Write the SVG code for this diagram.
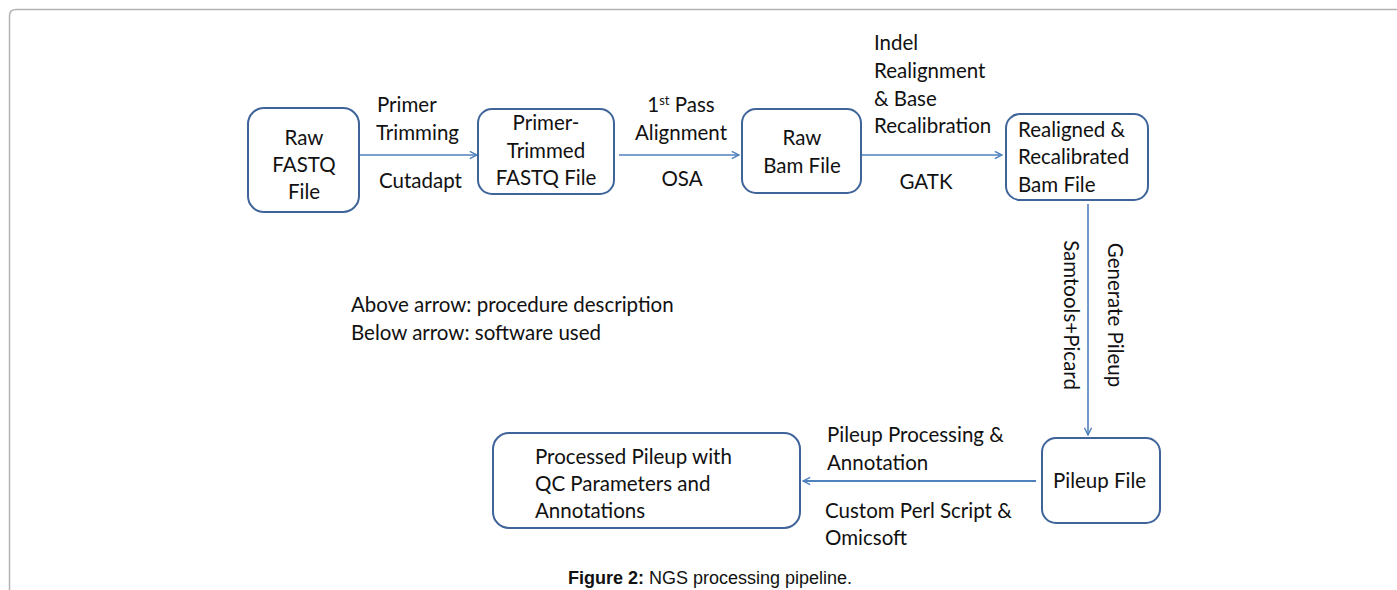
<svg xmlns="http://www.w3.org/2000/svg" width="1397" height="590" viewBox="0 0 1397 590">
  <defs>
    <marker id="arrowOpen" viewBox="0 0 10 10" refX="9" refY="5" markerWidth="9" markerHeight="9" markerUnits="userSpaceOnUse" orient="auto">
      <path d="M1,1 L9,5 L1,9" fill="none" stroke="#4f81bd" stroke-width="1.6"/>
    </marker>
    <style>
      .frame { fill: none; stroke: #b3b3b3; stroke-width: 1.5; }
      .node rect { fill: #ffffff; stroke: #3e6499; stroke-width: 2; }
      .t { font-family: Lato, "Liberation Sans", sans-serif; font-size: 20.5px; fill: #111111; }
      .mid { text-anchor: middle; }
      .edge { fill: none; stroke: #4f81bd; stroke-width: 1.6; marker-end: url(#arrowOpen); }
      .cap { font-family: "Liberation Sans", Arial, sans-serif; font-size: 18px; fill: #111111; }
    </style>
  </defs>

  <rect width="1397" height="590" fill="#ffffff"/>
  <!-- page frame, open to the right and bottom -->
  <path class="frame" d="M9.5,590 L9.5,16 Q9.5,9.5 16,9.5 L1397,9.5"/>

  <!-- connectors -->
  <g id="connectors">
    <line class="edge" x1="359" y1="155" x2="477" y2="155"/>
    <line class="edge" x1="619" y1="155" x2="739" y2="155"/>
    <line class="edge" x1="861" y1="155" x2="1002" y2="155"/>
    <line class="edge" x1="1088" y1="204" x2="1088" y2="435"/>
    <line class="edge" x1="1036" y1="481" x2="803" y2="481" style="stroke-width:2"/>
  </g>

  <!-- connector labels -->
  <g id="labels">
    <text class="t" x="377" y="112">Primer</text>
    <text class="t" x="376" y="140">Trimming</text>
    <text class="t" x="379" y="188">Cutadapt</text>

    <text class="t mid" x="681" y="112">1<tspan font-size="13" dy="-7">st</tspan><tspan dy="7"> Pass</tspan></text>
    <text class="t mid" x="681" y="140">Alignment</text>
    <text class="t mid" x="682" y="186">OSA</text>

    <text class="t" x="874" y="50">Indel</text>
    <text class="t" x="874" y="78">Realignment</text>
    <text class="t" x="874" y="106">&amp; Base</text>
    <text class="t" x="874" y="133">Recalibration</text>
    <text class="t mid" x="926" y="189">GATK</text>

    <text class="t mid" transform="translate(1064,315) rotate(90)">Samtools+Picard</text>
    <text class="t mid" transform="translate(1108,315) rotate(90)">Generate Pileup</text>

    <text class="t" x="827" y="442">Pileup Processing &amp;</text>
    <text class="t" x="827" y="470">Annotation</text>
    <text class="t" x="825" y="518">Custom Perl Script &amp;</text>
    <text class="t" x="825" y="545">Omicsoft</text>

    <text class="t" x="351" y="312">Above arrow: procedure description</text>
    <text class="t" x="351" y="340">Below arrow: software used</text>
  </g>

  <!-- nodes -->
  <g id="raw-fastq" class="node">
    <rect x="248" y="108" width="111" height="104" rx="16"/>
    <text class="t mid" x="304" y="145">Raw</text>
    <text class="t mid" x="304" y="172">FASTQ</text>
    <text class="t mid" x="304" y="199">File</text>
  </g>

  <g id="primer-trimmed" class="node">
    <rect x="478" y="109" width="136" height="85" rx="14"/>
    <text class="t mid" x="546" y="130">Primer-</text>
    <text class="t mid" x="546" y="158">Trimmed</text>
    <text class="t mid" x="546" y="185">FASTQ File</text>
  </g>

  <g id="raw-bam" class="node">
    <rect x="742" y="109" width="119" height="84" rx="14"/>
    <text class="t mid" x="802" y="145">Raw</text>
    <text class="t mid" x="802" y="173">Bam File</text>
  </g>

  <g id="realigned-bam" class="node">
    <rect x="1006" y="114" width="142" height="86" rx="14"/>
    <text class="t" x="1018" y="137">Realigned  &amp;</text>
    <text class="t" x="1018" y="164">Recalibrated</text>
    <text class="t" x="1018" y="192">Bam File</text>
  </g>

  <g id="pileup-file" class="node">
    <rect x="1042" y="438" width="118" height="85" rx="14"/>
    <text class="t" x="1053" y="488">Pileup File</text>
  </g>

  <g id="processed-pileup" class="node">
    <rect x="493" y="433" width="307" height="95" rx="16"/>
    <text class="t" x="535" y="464">Processed Pileup with</text>
    <text class="t" x="535" y="491">QC Parameters and</text>
    <text class="t" x="535" y="518">Annotations</text>
  </g>

  <!-- caption -->
  <text class="cap" x="568" y="584"><tspan font-weight="bold">Figure 2:</tspan> NGS processing pipeline.</text>
</svg>
